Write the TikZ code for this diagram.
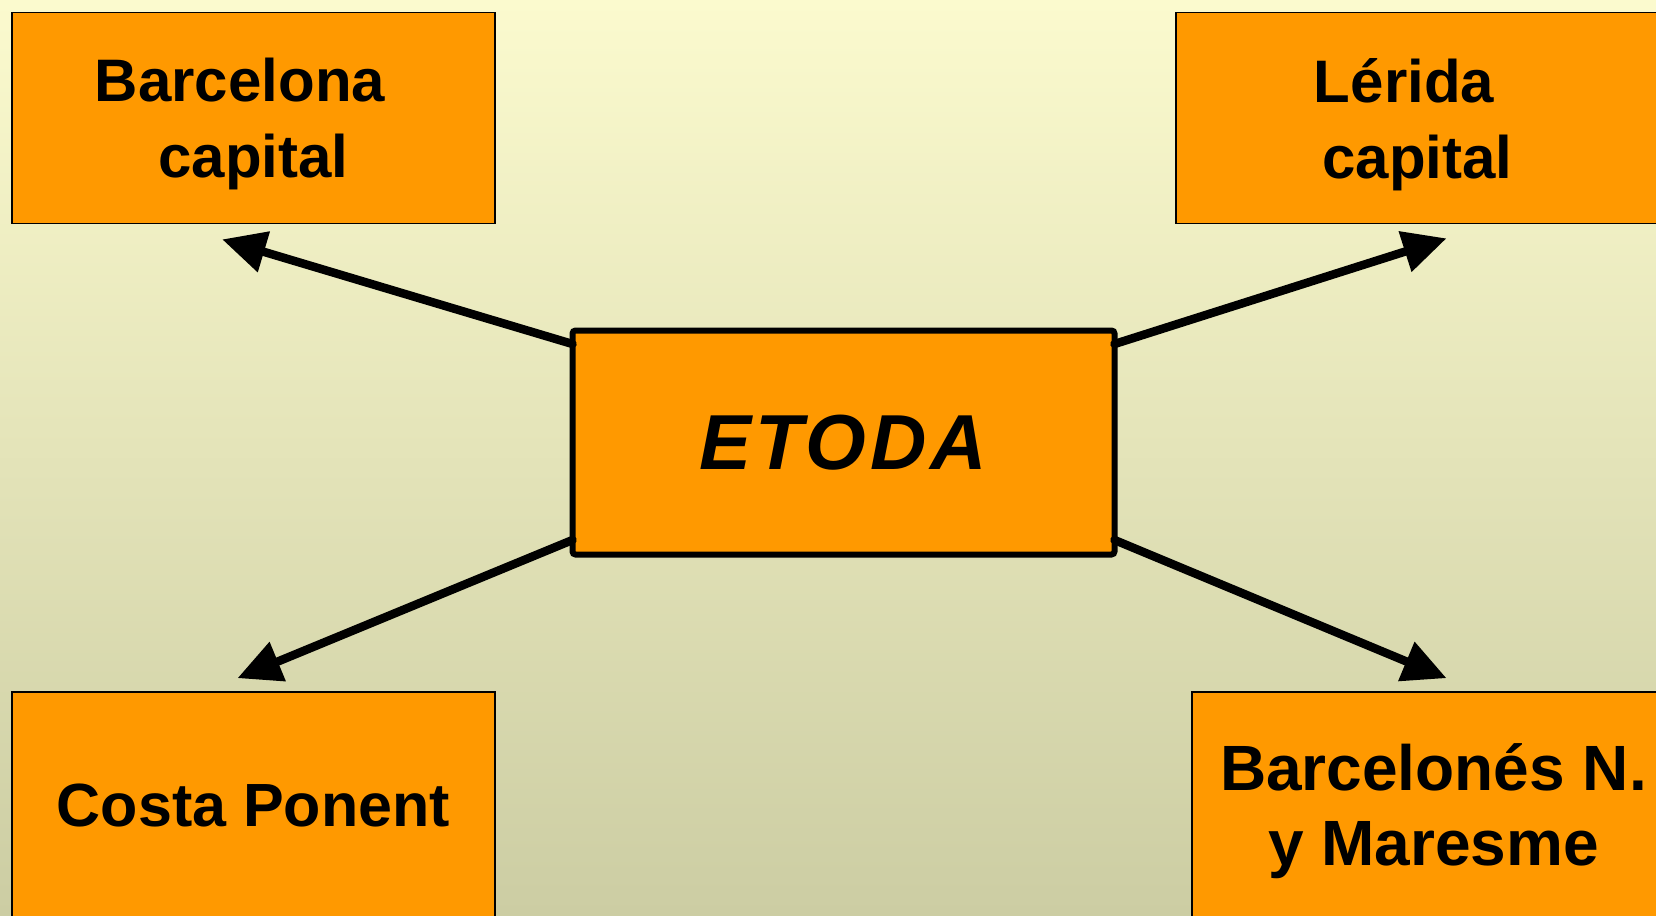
\documentclass[tikz,border=0pt]{standalone}
\usepackage{fontspec}
\setmainfont{Liberation Sans}
\usetikzlibrary{arrows.meta}
\definecolor{naranja}{RGB}{255,153,0}
\definecolor{fondoalto}{RGB}{251,250,206}
\definecolor{fondobajo}{RGB}{204,205,163}
\begin{document}
\begin{tikzpicture}[x=1pt,y=-1pt]
            \tikzstyle{every node}+=[inner sep=0pt]
            \tikzstyle{zona}=[draw=black, line width=1.5pt, fill=naranja, minimum width=483pt, align=center, text depth=0pt]
            \tikzstyle{flecha}=[line width=8.5pt, line cap=round, -{Triangle[length=43pt,width=43pt,line width=0pt]}]
            \useasboundingbox (0,0) rectangle (1656,915);
            \shade [top color=fondoalto, bottom color=fondobajo] (0,0) rectangle (1656,915);
            \node [zona, minimum height=211pt, font=\bfseries\fontsize{60}{76}\selectfont] (barna) at (253.5,118) {Barcelona\hspace*{0.45em}\\capital};
            \node [zona, minimum height=211pt, font=\bfseries\fontsize{60}{76}\selectfont] (lerida) at (1417.5,118) {L\'erida\hspace*{0.45em}\\capital};
            \node [zona, minimum height=226pt, font=\bfseries\fontsize{61}{75}\selectfont] (costa) at (253.5,805) {Costa Ponent};
            \node [zona, minimum height=226pt, font=\bfseries\fontsize{64}{75}\selectfont] (maresme) at (1433.5,805) {Barcelon\'es N.\\y Maresme};
            \node [zona, line width=6pt, outer sep=0pt, rounded corners=3pt, minimum width=542pt, minimum height=224pt, font=\bfseries\itshape\fontsize{78}{90}\selectfont\addfontfeature{LetterSpace=5}] (etoda) at (843.5,442.5) {ETODA};
            \draw [flecha] ([yshift=-13.5pt]etoda.north west) -- ([xshift=-30.8pt,yshift=-15.3pt]barna.south);
            \draw [flecha] ([yshift=-13.5pt]etoda.north east) -- ([xshift=28.5pt,yshift=-14.3pt]lerida.south);
            \draw [flecha] ([yshift=14.5pt]etoda.south west) -- ([xshift=-15.5pt,yshift=13.3pt]costa.north);
            \draw [flecha] ([yshift=14.5pt]etoda.south east) -- ([xshift=12.5pt,yshift=13.3pt]maresme.north);
\end{tikzpicture}
\end{document}
